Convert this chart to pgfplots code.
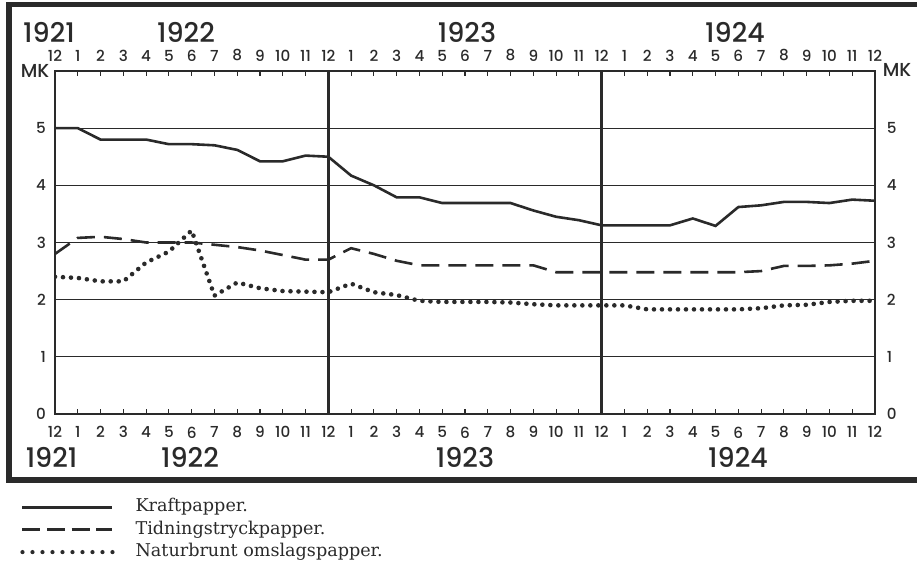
\documentclass[border=0pt]{standalone}
\usepackage{fontspec}
\setmainfont{Poppins Medium}
\newfontfamily\legfont{DejaVu Serif}
\usepackage{pgfplots}
\pgfplotsset{compat=1.18}
\definecolor{ink}{HTML}{2A2A2A}

\pgfplotstableread{
x kraft tidning natur
0  5.00 2.80 2.40
1  5.00 3.08 2.38
2  4.80 3.10 2.32
3  4.80 3.06 2.32
4  4.80 3.00 2.65
5  4.72 3.00 2.84
6  4.72 3.00 3.21
7  4.70 2.96 2.07
8  4.62 2.92 2.30
9  4.42 2.86 2.20
10 4.42 2.78 2.15
11 4.52 2.70 2.14
12 4.50 2.70 2.13
13 4.17 2.90 2.28
14 4.00 2.80 2.13
15 3.79 2.68 2.08
16 3.79 2.60 1.98
17 3.69 2.60 1.96
18 3.69 2.60 1.96
19 3.69 2.60 1.96
20 3.69 2.60 1.95
21 3.56 2.60 1.92
22 3.45 2.48 1.90
23 3.39 2.48 1.90
24 3.30 2.48 1.90
25 3.30 2.48 1.90
26 3.30 2.48 1.83
27 3.30 2.48 1.83
28 3.42 2.48 1.83
29 3.29 2.48 1.83
30 3.62 2.48 1.83
31 3.65 2.50 1.85
32 3.71 2.59 1.90
33 3.71 2.59 1.91
34 3.69 2.60 1.96
35 3.75 2.63 1.98
36 3.73 2.68 1.98
}\datatable

\pgfplotsset{
  common/.style={
    scale only axis, width=410pt, height=171.5pt,
    at={(27.5pt,75.5pt)}, anchor=south west,
    xmin=0, xmax=36, ymin=0, ymax=6,
    xtick={0,...,36},
    xticklabels={12,1,2,3,4,5,6,7,8,9,10,11,12,1,2,3,4,5,6,7,8,9,10,11,12,1,2,3,4,5,6,7,8,9,10,11,12},
    ytick={0,...,5},
    /pgf/number format/assume math mode=true,
    ticklabel style={font=\fontsize{7.6}{8}\selectfont, text=ink},
  }
}

\begin{document}
\begin{tikzpicture}[x=1pt,y=1pt]
\useasboundingbox (0,0) rectangle (458.5,282.5);
\draw[ink, line width=2.8pt] (460,280.3) -- (4.5,280.3) -- (4.5,42.5) -- (460,42.5);

% top labels / right labels
\begin{axis}[common,
  axis line style={draw=none}, tick style={draw=none},
  xticklabel pos=upper, yticklabel pos=upper,
  xticklabel style={yshift=1.4pt},
  yticklabel style={xshift=2.4pt},
]
\addplot[draw=none, forget plot] coordinates {(0,0)};
\end{axis}

\begin{axis}[common,
  axis line style={ink, line width=1.25pt},
  xtick pos=both, ytick pos=left,
  tick align=inside, major tick length=2.6pt,
  xtick style={ink, line width=0.6pt},
  ytick style={draw=none},
  xticklabel style={yshift=-2.8pt},
  yticklabel style={xshift=-1pt},
  ymajorgrids, grid style={ink, line width=0.55pt},
  extra x ticks={12,24}, extra x tick labels={},
  extra x tick style={xmajorgrids=true, major grid style={ink, line width=1.25pt}},
  legend cell align=left,
  legend style={at={(axis description cs:-0.0427,-0.242)}, anchor=north west,
    draw=none, fill=none, inner sep=0pt, row sep=1.3pt, column sep=9.5pt,
    font=\legfont\fontsize{8.8}{9}\selectfont,
    nodes={inner sep=1pt, text height=6.3pt, text depth=1.6pt, text=ink}},
  legend image code/.code={\draw[#1] (0pt,0pt) -- (45pt,0pt);},
]
\addplot[ink, line width=1.3pt, forget plot] table[x=x, y=kraft] {\datatable};
\addplot[ink, line width=1.3pt, dash pattern=on 9pt off 4.5pt, forget plot] table[x=x, y=tidning] {\datatable};
\addplot[ink, line width=2.3pt, line cap=round, dash pattern=on 0pt off 4pt, forget plot] table[x=x, y=natur] {\datatable};
\addlegendimage{ink, line width=1.4pt}
\addlegendentry{Kraftpapper.}
\addlegendimage{ink, line width=1.4pt, dash pattern=on 9pt off 3.3pt}
\addlegendentry{Tidningstryckpapper.}
\addlegendimage{ink, line width=2.1pt, line cap=round, dash pattern=on 0pt off 5pt}
\addlegendentry{Naturbrunt omslagspapper.}
\end{axis}

\node[text=ink, font=\fontsize{9.4}{10}\selectfont] at (17.5,246.8) {MK};
\node[text=ink, font=\fontsize{9.4}{10}\selectfont] at (448.5,247.5) {MK};
\begin{scope}[every node/.style={text=ink, font=\fontsize{13.5}{14}\selectfont}]
\node at (24.5,266.5) {1921};
\node at (93,266.5) {1922};
\node at (233.5,266.5) {1923};
\node at (367.5,266.5) {1924};
\node at (25.8,54) {1921};
\node at (95,54) {1922};
\node at (232.5,54) {1923};
\node at (369,54) {1924};
\end{scope}
\end{tikzpicture}
\end{document}
